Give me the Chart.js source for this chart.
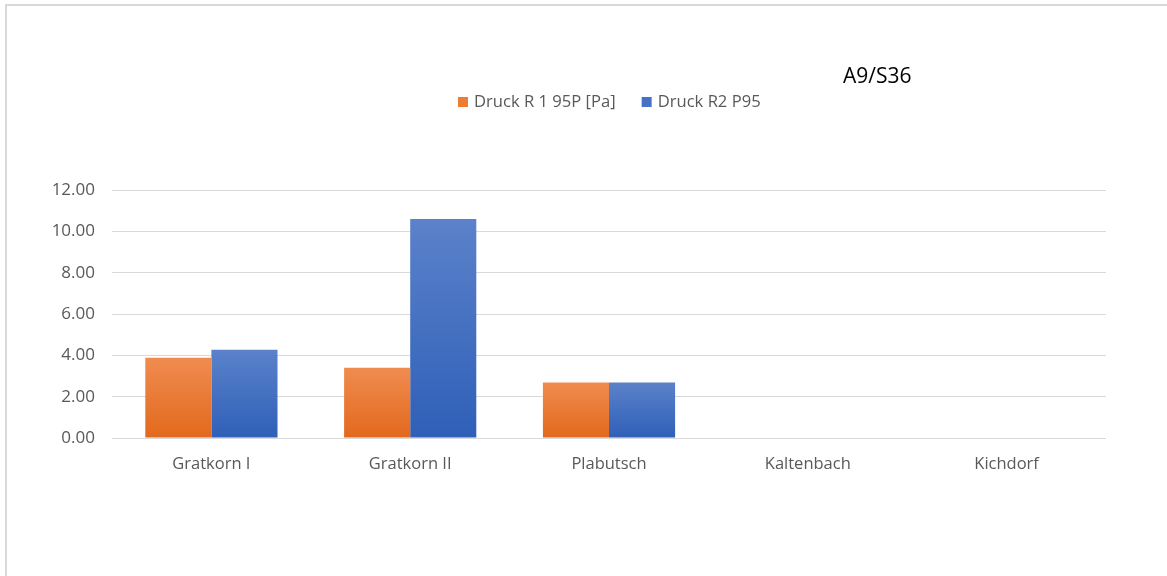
<!DOCTYPE html>
<html>
<head>
<meta charset="utf-8">
<script src="https://cdn.jsdelivr.net/npm/chart.js@4/dist/chart.umd.min.js"></script>
<style>
  body { margin: 0; background: #fff; }
  #wrap { position: relative; width: 1167px; height: 576px; overflow: hidden; }
  #frame {
    position: absolute; left: 5px; top: 4px; right: -10px; bottom: -10px;
    border-top: 2px solid #d9d9d9; border-left: 2px solid #d9d9d9;
    pointer-events: none;
  }
</style>
</head>
<body>
<div id="wrap">
  <canvas id="chart" width="1167" height="576"></canvas>
  <div id="frame"></div>
</div>
<script>
const categories = ["Gratkorn I", "Gratkorn II", "Plabutsch", "Kaltenbach", "Kichdorf"];
const druckR1 = [3.88, 3.40, 2.69, null, null];
const druckR2 = [4.27, 10.60, 2.69, null, null];
const seriesNames = ["Druck R 1 95P [Pa]", "Druck R2 P95"];
const yTicks = [0, 2, 4, 6, 8, 10, 12];
const chartTitle = "A9/S36";

const FONT = "'Open Sans', 'Noto Sans', sans-serif";
const GREY = "#595959";

// vertical gradient per bar, light at the top, darker at the base
function barFill(top, bottom, flat) {
    return c => {
        const chart = c.chart;
        const y = chart.scales && chart.scales.y;
        if (!chart.chartArea || !y || c.raw == null) return flat;
        const y0 = y.getPixelForValue(c.raw);
        const y1 = y.getPixelForValue(0);
        const g = chart.ctx.createLinearGradient(0, y0, 0, y1);
        g.addColorStop(0, top);
        g.addColorStop(1, bottom);
        return g;
    };
}

// legend and title text above the plot
const headerPlugin = {
    id: "header",
    afterDraw(chart) {
        const ctx = chart.ctx;
        ctx.save();
        ctx.textBaseline = "middle";
        ctx.font = "21px " + FONT;
        ctx.fillStyle = "#000";
        ctx.textAlign = "left";
        ctx.fillText(chartTitle, 843, 77);

        ctx.font = "16.6px " + FONT;
        const swatches = ["#ed7d31", "#4472c4"];
        let x = 458;
        chart.data.datasets.forEach((ds, i) => {
            ctx.fillStyle = swatches[i];
            ctx.fillRect(x, 97, 10, 10);
            ctx.fillStyle = GREY;
            ctx.fillText(ds.label, x + 16, 102);
            x += 16 + ctx.measureText(ds.label).width + 26;
        });
        ctx.restore();
    }
};

new Chart(document.getElementById("chart"), {
    type: "bar",
    data: {
        labels: categories,
        datasets: [
            {
                label: seriesNames[0],
                data: druckR1,
                backgroundColor: barFill("#f08c50", "#e2691c", "#ed7d31"),
                borderWidth: 0
            },
            {
                label: seriesNames[1],
                data: druckR2,
                backgroundColor: barFill("#5b82ca", "#2f5fb8", "#4472c4"),
                borderWidth: 0
            }
        ]
    },
    options: {
        responsive: false,
        animation: false,
        layout: { padding: { top: 190, right: 61, left: 0, bottom: 0 } },
        datasets: {
            bar: { barPercentage: 1, categoryPercentage: 0.665 }
        },
        plugins: {
            legend: { display: false },
            tooltip: { enabled: false }
        },
        scales: {
            x: {
                grid: { display: false, drawTicks: false },
                border: { display: false },
                ticks: { color: GREY, font: { family: FONT, size: 16.5 }, padding: 16 },
                afterFit: s => { s.height = 138; }
            },
            y: {
                min: 0,
                max: 12,
                afterBuildTicks: s => { s.ticks = yTicks.map(v => ({ value: v })); },
                grid: { color: "#d9d9d9", lineWidth: 1, drawTicks: false },
                border: { display: false },
                ticks: {
                    color: GREY,
                    font: { family: FONT, size: 17 },
                    padding: 17,
                    callback: v => v.toFixed(2)
                },
                afterFit: s => { s.width = 112; }
            }
        }
    },
    plugins: [headerPlugin]
});
</script>
</body>
</html>
